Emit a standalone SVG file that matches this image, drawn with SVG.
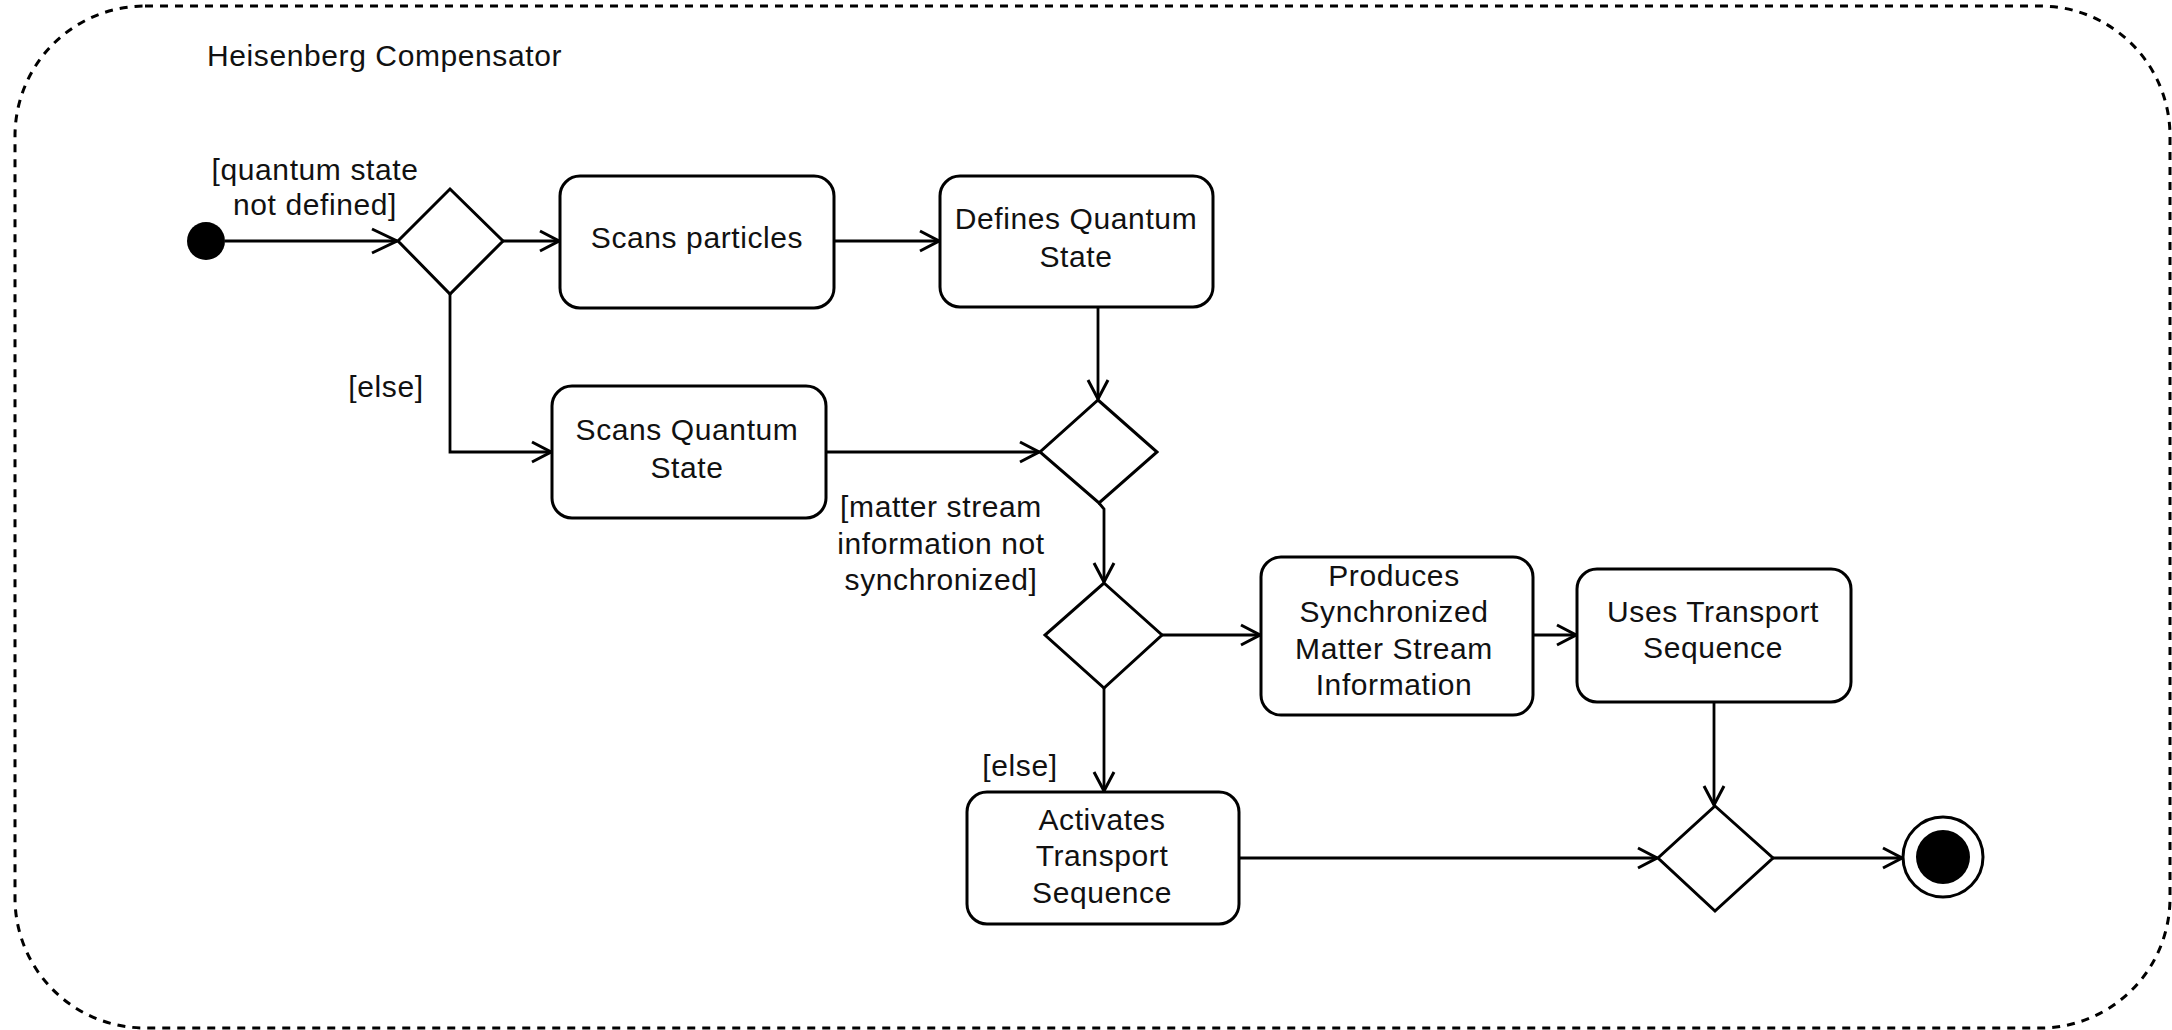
<svg xmlns="http://www.w3.org/2000/svg" width="2172" height="1030" viewBox="0 0 2172 1030">
<style>
  .box { fill: #fff; stroke: #000; stroke-width: 3; }
  .dia { fill: #fff; stroke: #000; stroke-width: 3; stroke-linejoin: miter; }
  .edge { fill: none; stroke: #000; stroke-width: 2.8; }
  .t { font-family: "Liberation Sans", Arial, Helvetica, sans-serif; font-size: 30px; letter-spacing: 0.6px; fill: #111; text-anchor: middle; }
  .tl { text-anchor: start; }
  .frame { fill: none; stroke: #000; stroke-width: 3; stroke-dasharray: 8 7; }
</style>
<defs>
  <marker id="arr" markerUnits="userSpaceOnUse" viewBox="-22 -12 24 24" refX="0" refY="0" markerWidth="24" markerHeight="24" orient="auto">
    <path d="M -19 -10 L 0 0 L -19 10" fill="none" stroke="#000" stroke-width="3"/>
  </marker>
  <marker id="arrBig" markerUnits="userSpaceOnUse" viewBox="-28 -14 30 28" refX="0" refY="0" markerWidth="30" markerHeight="28" orient="auto">
    <path d="M -25 -12 L 0 0 L -25 12" fill="none" stroke="#000" stroke-width="3"/>
  </marker>
</defs>
<rect width="2172" height="1030" fill="#fff"/>

<g id="container">
  <rect class="frame" x="15" y="6" width="2155" height="1022" rx="130" ry="130"/>
  <text class="t tl" x="207" y="66">Heisenberg Compensator</text>
</g>

<g id="connectors">
  <line class="edge" x1="225" y1="241" x2="397" y2="241" marker-end="url(#arrBig)"/>
  <line class="edge" x1="503" y1="241" x2="559" y2="241" marker-end="url(#arr)"/>
  <line class="edge" x1="834" y1="241" x2="939" y2="241" marker-end="url(#arr)"/>
  <line class="edge" x1="1098" y1="307" x2="1098" y2="399" marker-end="url(#arr)"/>
  <polyline class="edge" points="450,294 450,452 551,452" marker-end="url(#arr)"/>
  <line class="edge" x1="826" y1="452" x2="1039" y2="452" marker-end="url(#arr)"/>
  <polyline class="edge" points="1099,503 1104,509 1104,582" marker-end="url(#arr)"/>
  <line class="edge" x1="1162" y1="635" x2="1260" y2="635" marker-end="url(#arr)"/>
  <line class="edge" x1="1533" y1="635" x2="1576" y2="635" marker-end="url(#arr)"/>
  <line class="edge" x1="1104" y1="688" x2="1104" y2="791" marker-end="url(#arr)"/>
  <line class="edge" x1="1714" y1="702" x2="1714" y2="805" marker-end="url(#arr)"/>
  <line class="edge" x1="1239" y1="858" x2="1657" y2="858" marker-end="url(#arr)"/>
  <line class="edge" x1="1773" y1="858" x2="1902" y2="858" marker-end="url(#arr)"/>
  <text class="t" x="315" y="180">[quantum state</text>
  <text class="t" x="315" y="215">not defined]</text>
  <text class="t" x="386" y="397">[else]</text>
  <text class="t" x="941" y="517">[matter stream</text>
  <text class="t" x="941" y="554">information not</text>
  <text class="t" x="941" y="590">synchronized]</text>
  <text class="t" x="1020" y="776">[else]</text>
</g>

<g id="start">
  <circle cx="206" cy="241" r="19" fill="#000"/>
</g>

<g id="decision1">
  <polygon class="dia" points="450,189 503,241 450,294 398,241"/>
</g>

<g id="scans-particles">
  <rect class="box" x="560" y="176" width="274" height="132" rx="20" ry="20"/>
  <text class="t" x="697" y="248">Scans particles</text>
</g>

<g id="defines-quantum-state">
  <rect class="box" x="940" y="176" width="273" height="131" rx="20" ry="20"/>
  <text class="t" x="1076" y="229">Defines Quantum</text>
  <text class="t" x="1076" y="267">State</text>
</g>

<g id="scans-quantum-state">
  <rect class="box" x="552" y="386" width="274" height="132" rx="20" ry="20"/>
  <text class="t" x="687" y="440">Scans Quantum</text>
  <text class="t" x="687" y="478">State</text>
</g>

<g id="decision2">
  <polygon class="dia" points="1098,400 1157,452 1099,503 1040,452"/>
</g>

<g id="decision3">
  <polygon class="dia" points="1104,583 1162,635 1104,688 1045,635"/>
</g>

<g id="produces">
  <rect class="box" x="1261" y="557" width="272" height="158" rx="20" ry="20"/>
  <text class="t" x="1394" y="586">Produces</text>
  <text class="t" x="1394" y="622">Synchronized</text>
  <text class="t" x="1394" y="659">Matter Stream</text>
  <text class="t" x="1394" y="695">Information</text>
</g>

<g id="uses-transport-sequence">
  <rect class="box" x="1577" y="569" width="274" height="133" rx="20" ry="20"/>
  <text class="t" x="1713" y="622">Uses Transport</text>
  <text class="t" x="1713" y="658">Sequence</text>
</g>

<g id="activates-transport-sequence">
  <rect class="box" x="967" y="792" width="272" height="132" rx="20" ry="20"/>
  <text class="t" x="1102" y="830">Activates</text>
  <text class="t" x="1102" y="866">Transport</text>
  <text class="t" x="1102" y="903">Sequence</text>
</g>

<g id="merge">
  <polygon class="dia" points="1715,806 1773,858 1715,911 1658,858"/>
</g>

<g id="end">
  <circle cx="1943" cy="857" r="40" fill="#fff" stroke="#000" stroke-width="3"/>
  <circle cx="1943" cy="857" r="27" fill="#000"/>
</g>
</svg>
